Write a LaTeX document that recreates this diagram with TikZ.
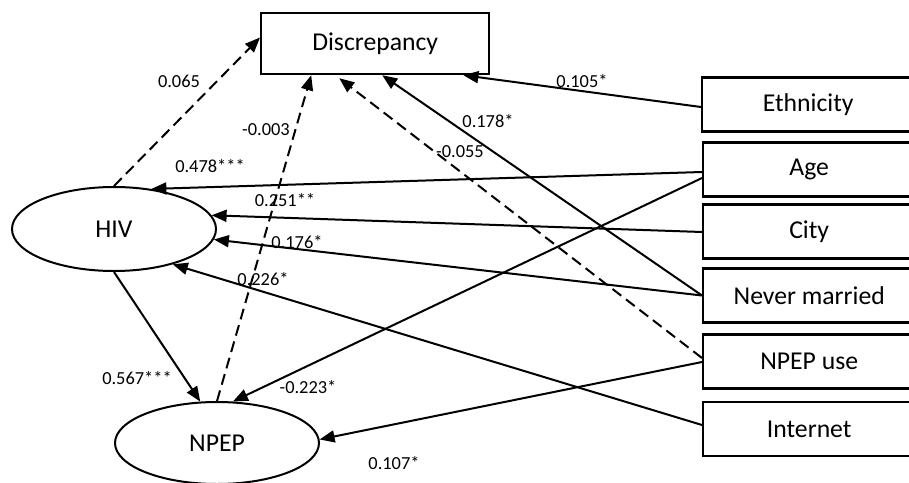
\documentclass[tikz,border=0pt]{standalone}
\usepackage{fontspec}
\setmainfont{Carlito}
\usepackage{tikz}
\usetikzlibrary{arrows.meta,shapes.geometric}
\tikzstyle{varbox}=[rectangle, draw, line width=2.4pt, minimum width=300pt, minimum height=54pt, inner sep=0pt, anchor=west, font=\fontsize{25.7}{30}\selectfont]
\tikzstyle{latent}=[ellipse, draw, line width=2pt, minimum width=204pt, minimum height=84pt, inner sep=0pt, font=\fontsize{25.7}{30}\selectfont]
\tikzstyle{coef}=[inner sep=0pt, font=\fontsize{18.4}{22}\selectfont]
\tikzstyle{sig}=[line width=2pt, -{Triangle[length=15pt,width=12pt]}]
\tikzstyle{nonsig}=[sig, dash pattern=on 11pt off 6pt]
\newcommand{\varbox}{\node[varbox]}
\newcommand{\latentvar}{\node[latent]}
\newcommand{\coef}{\node[coef]}
\newcommand{\boxtext}[1]{\hspace*{-88pt}#1}

\begin{document}
\begin{tikzpicture}[x=1pt, y=-1pt]
            \useasboundingbox (0,0) rectangle (909,482);
            \clip (0,0) rectangle (909,482);
            \varbox (disc) at (260,43.5) [minimum width=228pt, minimum height=61pt]{Discrepancy};
            \varbox (eth) at (701,104.5) {\boxtext{Ethnicity}};
            \varbox (age) at (702,169.5) {\boxtext{Age}};
            \varbox (city) at (702,231.5) {\boxtext{City}};
            \varbox (nmar) at (702,295.5) {\boxtext{Never married}};
            \varbox (nuse) at (702,361.5) {\boxtext{NPEP use}};
            \varbox (inet) at (702,429) {\boxtext{Internet}};
            \latentvar (hiv) at (114,229) {HIV};
            \latentvar (npep) at (217,443) [minimum height=82pt]{NPEP};
            \path 
                (hiv.north) edge[nonsig] ([yshift=6pt]disc.west)
                (npep.north) edge[nonsig] ([xshift=-64pt]disc.south)
                ([yshift=3.5pt]nuse.west) edge[nonsig] ([xshift=-36pt,yshift=-3pt]disc.south)
                (nmar.west) edge[sig] ([xshift=7pt]disc.south)
                ([yshift=-2.5pt]eth.west) edge[sig] ([xshift=-27pt]disc.south east)
                ([yshift=-2.5pt]age.west) edge[sig] (hiv.47)
                ([yshift=-0.5pt]city.west) edge[sig] (hiv.8)
                (nmar.west) edge[sig] (hiv.-6.5)
                ([yshift=4pt]inet.west) edge[sig] (hiv.-31)
                (hiv.south) edge[sig] (npep.112)
                ([yshift=-8.5pt]age.west) edge[sig] (npep.69)
                ([yshift=-0.5pt]nuse.west) edge[sig] (npep.2)
            ;
            \coef (c1) at (179,81) {0.065};
            \coef (c2) at (266,130) {-0.003};
            \coef (c3) at (460,152) {-0.055};
            \coef (c4) at (488,121) {0.178*};
            \coef (c5) at (582,81) {0.105*};
            \coef (c6) at (210,166) {0.478***};
            \coef (c7) at (285,200) {0.251**};
            \coef (c8) at (297,242) {0.176*};
            \coef (c9) at (263,279) {0.226*};
            \coef (c10) at (137,378) {0.567***};
            \coef (c11) at (308,387) {-0.223*};
            \coef (c12) at (394,463) {0.107*};
        \end{tikzpicture}
\end{document}
